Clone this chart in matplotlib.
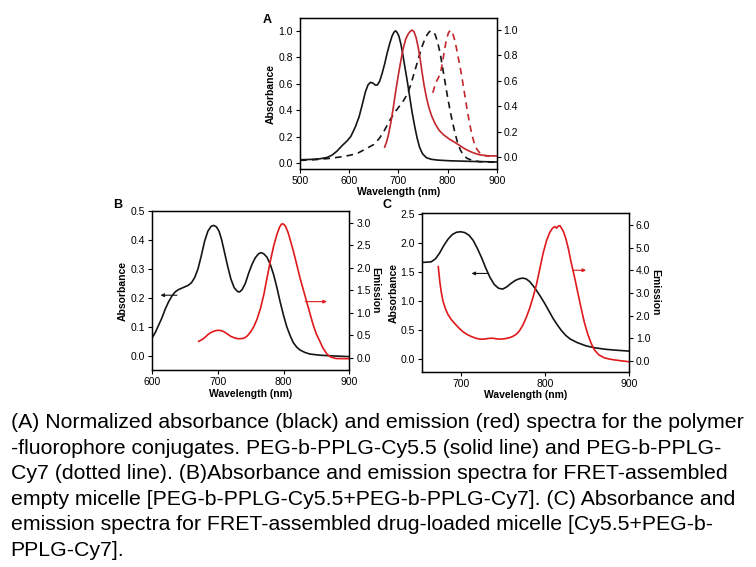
"""Absorbance / emission spectra of FRET polymer-fluorophore micelles (panels A-C)."""

from matplotlib import pyplot as plt

plt.rcParams['font.family'] = ['Liberation Sans', 'DejaVu Sans']

# ---- panel A: normalized spectra ----
a_wl_abs_cy55 = [500, 520, 540, 555, 565, 575, 585, 595, 603, 612, 620, 627, 633,
                 638, 643, 648, 653, 657, 662, 667, 672, 677, 682, 687, 691, 694,
                 697, 701, 705, 709, 713, 718, 723, 728, 733, 738, 743, 749, 757,
                 767, 780, 804, 850, 900]
a_abs_cy55 = [0.025, 0.027, 0.032, 0.042, 0.06, 0.09, 0.13, 0.165, 0.20, 0.27,
              0.35, 0.45, 0.54, 0.59, 0.61, 0.605, 0.59, 0.59, 0.62, 0.68, 0.75,
              0.83, 0.90, 0.96, 0.99, 1.0, 0.99, 0.96, 0.90, 0.82, 0.73, 0.62,
              0.50, 0.38, 0.28, 0.19, 0.12, 0.07, 0.04, 0.028, 0.022, 0.017,
              0.012, 0.008]

a_wl_em_cy55 = [672, 676, 680, 685, 690, 695, 700, 705, 710, 715, 720, 724, 728,
                732, 736, 740, 744, 748, 752, 757, 762, 768, 775, 783, 792, 804,
                815, 825, 835, 845, 855, 865, 880, 899]
a_em_cy55 = [0.078, 0.12, 0.18, 0.28, 0.40, 0.53, 0.65, 0.76, 0.86, 0.93, 0.97,
             0.99, 1.0, 0.985, 0.94, 0.87, 0.78, 0.67, 0.57, 0.47, 0.39, 0.32,
             0.26, 0.21, 0.175, 0.14, 0.115, 0.09, 0.065, 0.045, 0.03, 0.018,
             0.01, 0.008]

a_wl_abs_cy7 = [500, 530, 560, 590, 615, 635, 650, 662, 672, 682, 692, 702, 710,
                718, 725, 732, 740, 747, 754, 760, 765, 770, 775, 780, 785, 790,
                795, 800, 805, 810, 815, 820, 826, 832, 840, 850, 865, 900]
a_abs_cy7 = [0.02, 0.025, 0.035, 0.05, 0.07, 0.11, 0.14, 0.19, 0.25, 0.32, 0.38,
             0.43, 0.47, 0.52, 0.59, 0.68, 0.78, 0.87, 0.94, 0.98, 1.0, 0.995,
             0.97, 0.91, 0.83, 0.72, 0.61, 0.50, 0.40, 0.31, 0.23, 0.16, 0.10,
             0.06, 0.035, 0.02, 0.01, 0.005]

a_wl_em_cy7 = [770, 774, 778, 782, 786, 790, 794, 798, 802, 806, 810, 814, 818,
               822, 826, 830, 835, 840, 845, 850, 855, 860, 866, 872, 885]
a_em_cy7 = [0.506, 0.56, 0.60, 0.63, 0.67, 0.75, 0.85, 0.93, 0.98, 1.0, 0.98,
            0.93, 0.86, 0.78, 0.70, 0.61, 0.49, 0.37, 0.26, 0.17, 0.10, 0.06,
            0.03, 0.015, 0.005]

# ---- panel B: empty micelle ----
b_wl_abs = [600, 605, 610, 615, 620, 625, 630, 635, 640, 645, 650, 655, 660, 665,
            670, 675, 680, 685, 690, 694, 698, 702, 706, 710, 715, 720, 725, 730,
            733, 737, 742, 747, 752, 757, 762, 766, 770, 775, 780, 785, 790, 795,
            800, 805, 810, 815, 820, 825, 832, 840, 855, 870, 900]
b_abs = [0.061, 0.08, 0.105, 0.13, 0.16, 0.185, 0.205, 0.22, 0.228, 0.233, 0.238,
         0.243, 0.252, 0.27, 0.30, 0.345, 0.395, 0.43, 0.447, 0.45, 0.445, 0.43,
         0.40, 0.36, 0.31, 0.265, 0.235, 0.222, 0.22, 0.228, 0.25, 0.285, 0.315,
         0.338, 0.352, 0.356, 0.352, 0.34, 0.315, 0.28, 0.235, 0.185, 0.14, 0.10,
         0.07, 0.045, 0.03, 0.02, 0.012, 0.006, 0.002, 0.0, -0.003]

b_wl_em = [671, 675, 680, 685, 690, 695, 700, 705, 710, 715, 720, 725, 730, 735,
           740, 745, 750, 755, 760, 765, 770, 775, 780, 785, 790, 794, 797, 800,
           803, 807, 811, 815, 820, 825, 830, 835, 840, 845, 850, 855, 860, 866,
           872, 880, 900]
b_em = [0.37, 0.40, 0.45, 0.52, 0.57, 0.60, 0.615, 0.61, 0.58, 0.53, 0.48, 0.45,
        0.43, 0.43, 0.44, 0.49, 0.58, 0.70, 0.87, 1.10, 1.40, 1.78, 2.15, 2.48,
        2.74, 2.90, 2.97, 2.97, 2.92, 2.78, 2.58, 2.37, 2.08, 1.78, 1.52, 1.26,
        1.00, 0.74, 0.53, 0.38, 0.22, 0.09, 0.02, -0.01, -0.015]

# ---- panel C: drug-loaded micelle ----
c_wl_abs = [654, 660, 665, 670, 675, 680, 685, 690, 695, 700, 705, 710, 715, 720,
            725, 730, 735, 740, 745, 750, 755, 760, 765, 770, 774, 778, 782, 786,
            790, 795, 800, 805, 810, 815, 820, 825, 830, 838, 849, 860, 873, 885,
            900]
c_abs = [1.66, 1.665, 1.67, 1.72, 1.82, 1.95, 2.06, 2.14, 2.18, 2.19, 2.175, 2.13,
         2.04, 1.90, 1.74, 1.56, 1.40, 1.28, 1.215, 1.20, 1.24, 1.30, 1.35, 1.38,
         1.39, 1.375, 1.33, 1.26, 1.18, 1.07, 0.95, 0.82, 0.69, 0.58, 0.48, 0.40,
         0.34, 0.28, 0.22, 0.185, 0.16, 0.145, 0.13]

c_wl_em = [673.5, 674.5, 675.5, 677, 679, 682, 685, 689, 693, 698, 703, 708, 713,
           718, 723, 728, 733, 738, 743, 748, 753, 758, 762, 766, 770, 774, 778,
           782, 786, 790, 794, 798, 802, 806, 809, 812, 814, 816, 818, 820, 822,
           825, 828, 831, 835, 839, 843, 847, 851, 855, 859, 864, 871, 878, 885,
           900]
c_em = [4.16, 3.80, 3.45, 3.05, 2.65, 2.30, 2.05, 1.82, 1.65, 1.45, 1.28, 1.16,
        1.07, 1.00, 0.96, 0.96, 0.99, 1.00, 0.97, 0.96, 0.98, 1.02, 1.08, 1.17,
        1.33, 1.58, 1.92, 2.32, 2.80, 3.35, 4.05, 4.75, 5.30, 5.68, 5.85, 5.93,
        5.86, 5.95, 5.97, 5.85, 5.72, 5.40, 4.95, 4.40, 3.75, 3.05, 2.35, 1.70,
        1.18, 0.78, 0.48, 0.27, 0.13, 0.07, 0.03, -0.04]

caption = [
    "(A) Normalized absorbance (black) and emission (red) spectra for the polymer",
    "-fluorophore conjugates. PEG-b-PPLG-Cy5.5 (solid line) and PEG-b-PPLG-",
    "Cy7 (dotted line). (B)Absorbance and emission spectra for FRET-assembled",
    "empty micelle [PEG-b-PPLG-Cy5.5+PEG-b-PPLG-Cy7]. (C) Absorbance and",
    "emission spectra for FRET-assembled drug-loaded micelle [Cy5.5+PEG-b-",
    "PPLG-Cy7].",
]

BLACK = '#151515'
RED_A = '#c3262b'
RED = '#e0191c'
FS = 7.5


def style(ax, right=None):
    ax.tick_params(labelsize=FS, length=3, width=0.8, pad=2, direction='out')
    for s in ax.spines.values():
        s.set_linewidth(1.0)
    if right is not None:
        right.tick_params(labelsize=FS, length=3, width=0.8, pad=2, direction='out')


def arrow(ax, x0, x1, y, color):
    ax.annotate('', xy=(x1, y), xytext=(x0, y),
                arrowprops=dict(arrowstyle='-|>', color=color, lw=0.8,
                                mutation_scale=5, shrinkA=0, shrinkB=0))


fig = plt.figure(figsize=(7.56, 5.67), dpi=100)

# panel A
ax = fig.add_axes([0.397, 0.702, 0.260, 0.266])
ax.plot(a_wl_abs_cy55, a_abs_cy55, color=BLACK, lw=1.2)
ax.plot(a_wl_abs_cy7, a_abs_cy7, color=BLACK, lw=1.2, ls=(0, (4, 3)))
ax.set_xlim(500, 900)
ax.set_ylim(-0.045, 1.096)
ax.set_xticks([500, 600, 700, 800, 900])
ax.set_yticks([0.0, 0.2, 0.4, 0.6, 0.8, 1.0])
ax.set_xlabel('Wavelength (nm)', fontsize=FS, fontweight='bold', labelpad=1)
ax.set_ylabel('Absorbance', fontsize=FS, fontweight='bold', labelpad=2)
axr = ax.twinx()
axr.plot(a_wl_em_cy55, a_em_cy55, color=RED_A, lw=1.2)
axr.plot(a_wl_em_cy7, a_em_cy7, color=RED_A, lw=1.2, ls=(0, (4, 3)))
axr.set_ylim(-0.094, 1.094)
axr.set_yticks([0.0, 0.2, 0.4, 0.6, 0.8, 1.0])
style(ax, axr)
fig.text(0.354, 0.965, 'A', fontsize=9, fontweight='bold', ha='center', va='center')

# panel B
ax = fig.add_axes([0.201, 0.347, 0.261, 0.281])
ax.plot(b_wl_abs, b_abs, color=BLACK, lw=1.2)
ax.set_xlim(600, 900)
ax.set_ylim(-0.05, 0.5)
ax.set_xticks([600, 700, 800, 900])
ax.set_yticks([0.0, 0.1, 0.2, 0.3, 0.4, 0.5])
ax.set_xlabel('Wavelength (nm)', fontsize=FS, fontweight='bold', labelpad=1)
ax.set_ylabel('Absorbance', fontsize=FS, fontweight='bold', labelpad=2)
arrow(ax, 638, 613, 0.209, BLACK)
axr = ax.twinx()
axr.plot(b_wl_em, b_em, color=RED, lw=1.2)
axr.set_ylim(-0.27, 3.26)
axr.set_yticks([0.0, 0.5, 1.0, 1.5, 2.0, 2.5, 3.0])
axr.set_ylabel('Emission', fontsize=FS, fontweight='bold', rotation=270, labelpad=7)
arrow(axr, 833, 866, 1.25, RED)
style(ax, axr)
fig.text(0.156, 0.638, 'B', fontsize=9, fontweight='bold', ha='center', va='center')

# panel C
ax = fig.add_axes([0.558, 0.344, 0.274, 0.280])
ax.plot(c_wl_abs, c_abs, color=BLACK, lw=1.2)
ax.set_xlim(654, 900)
ax.set_ylim(-0.23, 2.51)
ax.set_xticks([700, 800, 900])
ax.set_yticks([0.0, 0.5, 1.0, 1.5, 2.0, 2.5])
ax.set_xlabel('Wavelength (nm)', fontsize=FS, fontweight='bold', labelpad=1)
ax.set_ylabel('Absorbance', fontsize=FS, fontweight='bold', labelpad=1)
arrow(ax, 733, 713, 1.47, BLACK)
axr = ax.twinx()
axr.plot(c_wl_em, c_em, color=RED, lw=1.2)
axr.set_ylim(-0.49, 6.52)
axr.set_yticks([0, 1, 2, 3, 4, 5, 6])
axr.set_yticklabels(['0.0', '1.0', '2.0', '3.0', '4.0', '5.0', '6.0'])
axr.set_ylabel('Emission', fontsize=FS, fontweight='bold', rotation=270, labelpad=7)
arrow(axr, 834, 849, 4.0, RED)
style(ax, axr)
fig.text(0.512, 0.638, 'C', fontsize=9, fontweight='bold', ha='center', va='center')

# caption
for i, line in enumerate(caption):
    fig.text(0.014, 1 - (423 + 25.4 * i) / 567, line, fontsize=15.3,
             ha='left', va='center')

fig.savefig('out.png', dpi=100)
